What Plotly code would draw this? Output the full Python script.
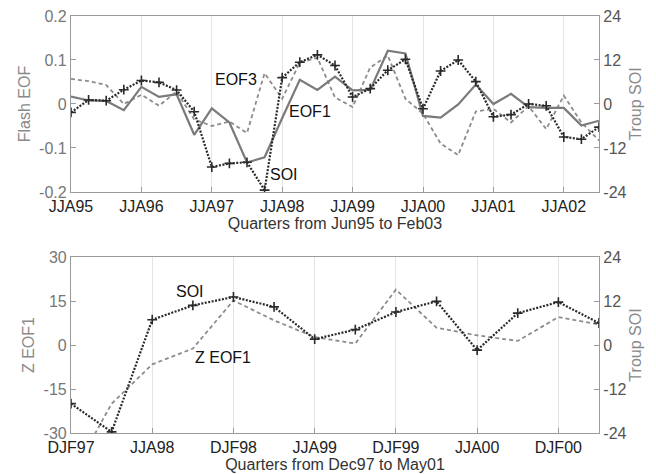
import plotly.graph_objects as go

# ---------------- data ----------------
top_quarters = ["JJA95", "SON95", "DJF95", "MAM96", "JJA96", "SON96", "DJF96", "MAM97",
                "JJA97", "SON97", "DJF97", "MAM98", "JJA98", "SON98", "DJF98", "MAM99",
                "JJA99", "SON99", "DJF99", "MAM00", "JJA00", "SON00", "DJF00", "MAM01",
                "JJA01", "SON01", "DJF01", "MAM02", "JJA02", "SON02", "DJF02"]
top_ticks = ["JJA95", "JJA96", "JJA97", "JJA98", "JJA99", "JJA00", "JJA01", "JJA02"]

top_soi = [-2.3, 1.1, 0.9, 3.9, 6.4, 5.9, 3.8, -2.1, -17.2, -16.2, -15.9, -23.5, 7.2, 11.4,
           13.4, 10.5, 1.9, 4.2, 9.2, 12.2, -1.3, 9.0, 12.0, 6.1, -3.5, -2.9, 0.0, -0.5,
           -9.0, -9.6, -6.3]
top_eof1 = [0.017, 0.008, 0.007, -0.014, 0.039, 0.016, 0.022, -0.070, -0.010, -0.042,
            -0.133, -0.121, -0.032, 0.055, 0.032, 0.062, 0.031, 0.032, 0.121, 0.115,
            -0.027, -0.031, -0.001, 0.044, 0.0, 0.023, -0.007, -0.009, -0.009, -0.049,
            -0.038]
top_eof3 = [0.057, 0.052, 0.043, 0.0, 0.021, -0.004, 0.028, -0.035, -0.050, -0.040,
            -0.066, 0.070, 0.012, 0.094, 0.105, 0.015, -0.007, 0.083, 0.110, 0.012,
            -0.022, -0.090, -0.116, -0.017, -0.011, -0.042, -0.005, -0.057, 0.019,
            -0.042, -0.083]

bot_quarters = ["DJF97", "MAM98", "JJA98", "SON98", "DJF98", "MAM99", "JJA99", "SON99",
                "DJF99", "MAM00", "JJA00", "SON00", "DJF00", "MAM01"]
bot_ticks = ["DJF97", "JJA98", "DJF98", "JJA99", "DJF99", "JJA00", "DJF00"]

bot_soi = [-16.0, -23.7, 6.9, 10.8, 13.1, 10.4, 1.6, 4.2, 9.0, 11.9, -1.4, 8.7, 11.7, 6.0]
bot_zeof1 = [-45.0, -20.0, -6.6, -1.2, 15.2, 8.4, 2.7, 0.5, 18.9, 5.9, 3.3, 1.4, 9.5, 7.0]

top_left_ticks = [-0.2, -0.1, 0, 0.1, 0.2]
top_left_text = ["-0.2", "-0.1", "0", "0.1", "0.2"]
soi_ticks = [-24, -12, 0, 12, 24]
soi_text = ["-24", "-12", "0", "12", "24"]
z_ticks = [-30, -15, 0, 15, 30]
z_text = ["-30", "-15", "0", "15", "30"]

# ---------------- style ----------------
FONT = "Liberation Sans, Arial, Helvetica, sans-serif"
AXCOL = "#9a9a9a"
GRID = "#e4e4e4"
GRAY_SOLID = "#7a7a7a"
GRAY_DASH = "#8c8c8c"
SOI_COL = "#2a2a2a"

fig = go.Figure()

fig.add_trace(go.Scatter(x=top_quarters, y=top_eof3, mode="lines", xaxis="x", yaxis="y",
                         line=dict(color=GRAY_DASH, width=1.8, dash="4px,3px"),
                         showlegend=False, hoverinfo="skip"))
fig.add_trace(go.Scatter(x=top_quarters, y=top_eof1, mode="lines", xaxis="x", yaxis="y",
                         line=dict(color=GRAY_SOLID, width=2.2), showlegend=False,
                         hoverinfo="skip"))
fig.add_trace(go.Scatter(x=top_quarters, y=top_soi, mode="lines+markers", xaxis="x", yaxis="y2",
                         line=dict(color=SOI_COL, width=2.2, dash="2px,1.5px"),
                         marker=dict(symbol="cross-thin", size=7,
                                     line=dict(color=SOI_COL, width=1.6)),
                         showlegend=False, hoverinfo="skip"))

fig.add_trace(go.Scatter(x=bot_quarters, y=bot_zeof1, mode="lines", xaxis="x2", yaxis="y3",
                         line=dict(color=GRAY_DASH, width=1.8, dash="4px,3px"),
                         showlegend=False, hoverinfo="skip"))
fig.add_trace(go.Scatter(x=bot_quarters, y=bot_soi, mode="lines+markers", xaxis="x2", yaxis="y4",
                         line=dict(color=SOI_COL, width=2.2, dash="2px,1.5px"),
                         marker=dict(symbol="cross-thin", size=7,
                                     line=dict(color=SOI_COL, width=1.6)),
                         showlegend=False, hoverinfo="skip"))

tick_font = dict(family=FONT, size=16, color="#222")
left_tick_font = dict(family=FONT, size=16, color="#777")
right_tick_font = dict(family=FONT, size=16, color="#555")
ytitle_font = dict(family=FONT, size=16, color="#8a8a8a")
xtitle_font = dict(family=FONT, size=16, color="#333")

def xax(domain_anchor, cats, ticks, title):
    return dict(anchor=domain_anchor, domain=[0, 1], type="category",
                categoryorder="array", categoryarray=cats, automargin=False,
                range=[0, len(cats) - 1], tickmode="array", tickvals=ticks, ticktext=ticks,
                showgrid=True, gridcolor=GRID, gridwidth=1, zeroline=False,
                showline=True, mirror=True, linecolor=AXCOL, linewidth=1.2,
                ticks="inside", ticklen=5, tickcolor=AXCOL,
                tickfont=tick_font,
                title=dict(text=title, font=xtitle_font, standoff=2))

def yax_left(anchor, domain, rng, vals, text, title):
    return dict(anchor=anchor, domain=domain, range=rng, tickmode="array", automargin=False,
                tickvals=vals, ticktext=text, showgrid=False, zeroline=False,
                showline=True, linecolor=AXCOL, linewidth=1.2,
                ticks="inside", ticklen=5, tickcolor=AXCOL,
                tickfont=left_tick_font,
                title=dict(text=title, font=ytitle_font, standoff=4))

def yax_right(anchor, over, rng, vals, text, title):
    return dict(anchor=anchor, overlaying=over, side="right", range=rng, tickmode="array",
                automargin=False,
                tickvals=vals, ticktext=text, showgrid=False, zeroline=False,
                showline=True, linecolor=AXCOL, linewidth=1.2,
                ticks="inside", ticklen=5, tickcolor=AXCOL,
                tickfont=right_tick_font,
                title=dict(text=title, font=ytitle_font, standoff=4))

TOP_DOM = [0.578, 1.0]
BOT_DOM = [0.0, 0.422]

fig.update_layout(
    width=656, height=474,
    margin=dict(l=71, r=57, t=16, b=41),
    paper_bgcolor="white", plot_bgcolor="white",
    font=dict(family=FONT, size=16, color="#222"),
    xaxis=xax("y", top_quarters, top_ticks, "Quarters from Jun95 to Feb03"),
    yaxis=yax_left("x", TOP_DOM, [-0.2, 0.2], top_left_ticks, top_left_text, "Flash EOF"),
    yaxis2=yax_right("x", "y", [-24, 24], soi_ticks, soi_text, "Troup SOI"),
    xaxis2=xax("y3", bot_quarters, bot_ticks, "Quarters from Dec97 to May01"),
    yaxis3=yax_left("x2", BOT_DOM, [-30, 30], z_ticks, z_text, "Z EOF1"),
    yaxis4=yax_right("x2", "y3", [-24, 24], soi_ticks, soi_text, "Troup SOI"),
)

ann_font = dict(family=FONT, size=16, color="#111")
annots = [
    ("EOF3", 0.312, 0.848),
    ("EOF1", 0.452, 0.770),
    ("SOI", 0.403, 0.619),
    ("SOI", 0.225, 0.339),
    ("Z EOF1", 0.287, 0.180),
]
for text, ax_, ay_ in annots:
    fig.add_annotation(text=text, x=ax_, y=ay_, xref="paper", yref="paper",
                       showarrow=False, font=ann_font, xanchor="center", yanchor="middle")

fig.write_html("out.html", config={"displayModeBar": False},
               post_script="document.body.style.margin='0px';document.body.style.overflow='hidden';")
